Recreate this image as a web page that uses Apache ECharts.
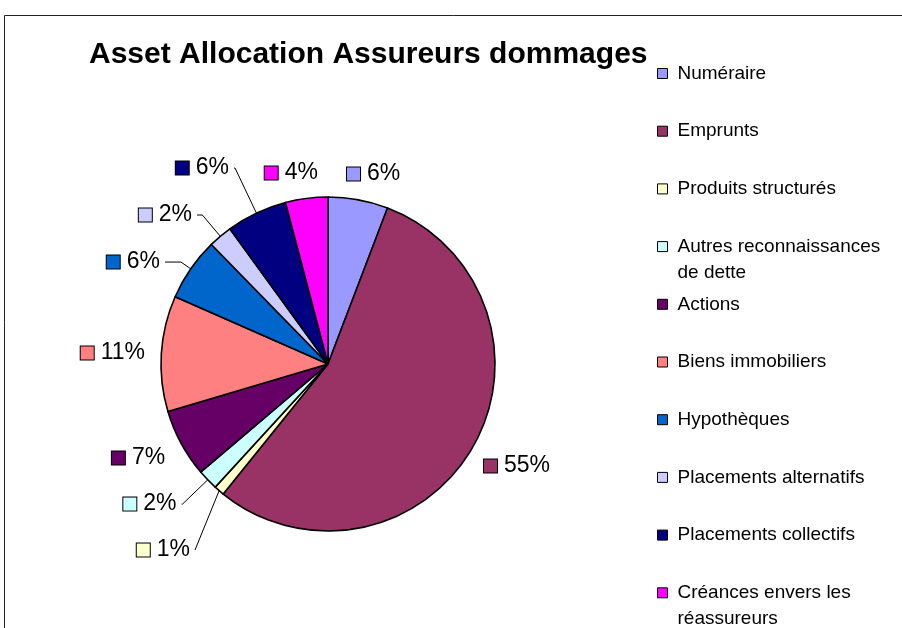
<!DOCTYPE html>
<html>
<head>
<meta charset="utf-8">
<script src="https://cdn.jsdelivr.net/npm/echarts@6/dist/echarts.min.js"></script>
<style>
html,body{margin:0;padding:0;background:#fff;}
#chart{width:902px;height:628px;}
</style>
</head>
<body>
<div id="chart"></div>
<script>
// ---- data ----
const titleText = 'Asset Allocation Assureurs dommages';
const categories = ['Numéraire', 'Emprunts', 'Produits structurés', 'Autres reconnaissances de dette', 'Actions', 'Biens immobiliers', 'Hypothèques', 'Placements alternatifs', 'Placements collectifs', 'Créances envers les réassureurs'];
const values = [5.8, 55.0, 1.0, 2.0, 6.6, 11.2, 6.1, 2.3, 5.9, 4.1];
const colors = ['#9999FF', '#993366', '#FFFFCC', '#CCFFFF', '#660066', '#FF8080', '#0066CC', '#CCCCFF', '#000080', '#FF00FF'];

// ---- label placement styling (leader line lengths) ----
const lineLen = [26.2, 37.7, 78.3, 34.9, 30.4, 8, 11.9, 27.9, 49.9, 25.6];
const lineLen2 = [-21, -26.5, -26.9, 1, -15.7, 3.3, 16, 5.3, 1, -19.7];
const showLine = [false, false, true, true, false, false, true, true, true, false];

const FONT = "'Liberation Sans', Arial, sans-serif";
const LEG_LH = 26;
const LEG_STEP = 57.7;
const LEG_FIRST_Y = 73.5;

const chart = echarts.init(document.getElementById('chart'), null, {renderer: 'canvas'});

const pieData = categories.map((n, i) => ({
  name: n,
  value: values[i],
  itemStyle: {color: colors[i]},
  label: {rich: {m: {backgroundColor: colors[i]}}},
  labelLine: {show: showLine[i], length: lineLen[i], length2: lineLen2[i]}
}));

chart.setOption({
  animation: false,
  backgroundColor: '#fff',
  graphic: [{
    type: 'rect', silent: true,
    shape: {x: 4.5, y: 15.5, width: 1200, height: 1200},
    style: {fill: null, stroke: '#222', lineWidth: 1}
  }],
  title: {
    text: titleText,
    left: 89, top: 40, padding: 0,
    textStyle: {fontFamily: FONT, fontSize: 30, fontWeight: 'bold', color: '#000'}
  },
  legend: {
    orient: 'vertical',
    left: 657, top: LEG_FIRST_Y - 1.5 * LEG_LH, height: 900,
    padding: 0,
    itemWidth: 10, itemHeight: 10,
    itemGap: LEG_STEP - 3 * LEG_LH,
    icon: 'rect',
    selectedMode: false,
    itemStyle: {borderColor: '#000', borderWidth: 1},
    textStyle: {
      fontFamily: FONT, fontSize: 19, color: '#000',
      lineHeight: LEG_LH, height: LEG_LH, width: 222, overflow: 'break',
      padding: [LEG_LH, 0, LEG_LH, 5],
      backgroundColor: 'rgba(0,0,0,0)',
      rich: {z: {}}
    },
    data: categories
  },
  series: [{
    type: 'pie',
    center: [328, 364],
    radius: 167,
    startAngle: 90,
    clockwise: true,
    avoidLabelOverlap: false,
    emphasis: {disabled: true},
    itemStyle: {borderColor: '#000', borderWidth: 1.6},
    label: {
      show: true,
      position: 'outside',
      distanceToLabelLine: 5,
      fontFamily: FONT,
      fontSize: 23,
      color: '#000',
      formatter: p => '{m|}{t|' + Math.round(p.percent) + '%}',
      rich: {
        m: {width: 13, height: 13, borderColor: '#000', borderWidth: 1},
        t: {fontFamily: FONT, fontSize: 23, color: '#000', padding: [0, 0, 0, 7]}
      }
    },
    labelLine: {show: true, lineStyle: {color: '#000', width: 1}},
    data: pieData
  }]
});
</script>
</body>
</html>
